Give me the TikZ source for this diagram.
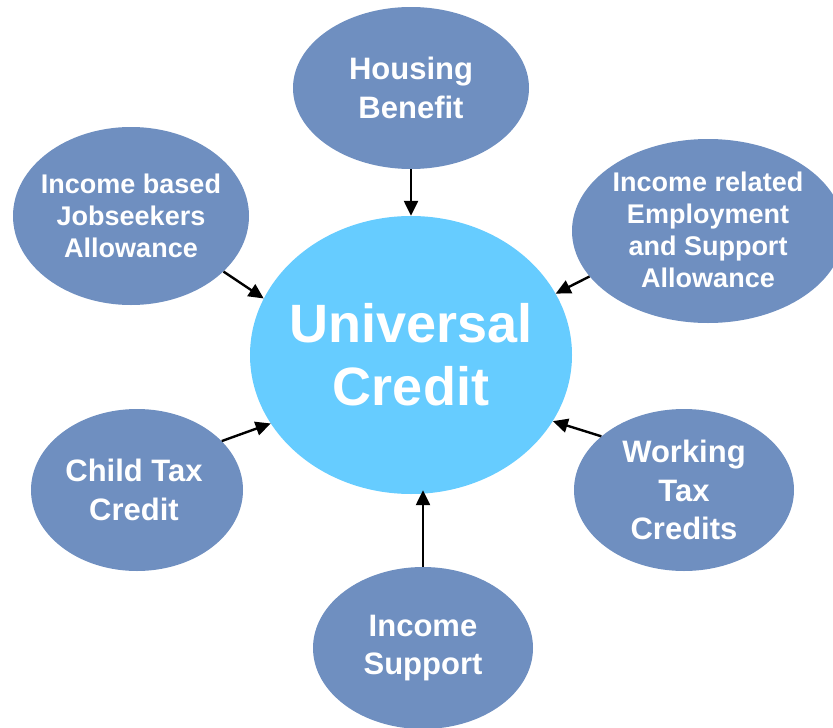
\documentclass[tikz,border=0pt]{standalone}
\usepackage{fontspec}
\setmainfont{Liberation Sans}
\usetikzlibrary{shapes.geometric,arrows.meta}
\definecolor{outerblue}{RGB}{111,143,192}
\definecolor{centreblue}{RGB}{102,204,255}
\tikzset{
  benefit/.style={ellipse, fill=outerblue, draw=none, inner sep=0pt},
  centre/.style={ellipse, fill=centreblue, draw=none, inner sep=0pt},
  bigtext/.style={text=white, align=center, inner sep=0pt, font=\bfseries\fontsize{31}{38.5}\selectfont},
  smalltext/.style={text=white, align=center, inner sep=0pt, font=\bfseries\fontsize{27}{32}\selectfont},
  centretext/.style={text=white, align=center, inner sep=0pt, font=\bfseries\fontsize{54}{63}\selectfont},
  arr/.style={-{Triangle[length=15pt,width=14pt]}, line width=2.4pt, black}
}
\begin{document}
\begin{tikzpicture}[x=1pt,y=-1pt]
\useasboundingbox (0,0) rectangle (833,728);
\node[centre, minimum width=322pt, minimum height=278pt] (uc) at (411,355) {};
\node[centretext] (uct) at (uc.center) {Universal\\Credit};
\node[benefit, minimum width=236pt, minimum height=162pt] (hb) at (411,88) {};
\node[bigtext] (hbt) at (hb.center) {Housing\\Benefit};
\node[benefit, minimum width=236pt, minimum height=178pt] (jsa) at (131,216) {};
\node[smalltext] (jsat) at (jsa.center) {Income based\\Jobseekers\\Allowance};
\node[benefit, minimum width=272pt, minimum height=184pt] (esa) at (708,231) {};
\node[smalltext] (esat) at ([yshift=1pt]esa.center) {Income related\\Employment\\and Support\\Allowance};
\node[benefit, minimum width=212pt, minimum height=162pt] (ctc) at (137,490) {};
\node[bigtext] (ctct) at ([xshift=-3pt]ctc.center) {Child Tax\\Credit};
\node[benefit, minimum width=220pt, minimum height=162pt] (wtc) at (684,490) {};
\node[bigtext] (wtct) at (wtc.center) {Working\\Tax\\Credits};
\node[benefit, minimum width=220pt, minimum height=162pt] (is) at (423,648) {};
\node[bigtext] (ist) at (is.center) {Income\\Support};
\draw[arr] (hb.south) -- (uc.north);
\draw[arr] (jsa.-31) -- (uc.159.5);
\draw[arr] (esa.-159.7) -- (uc.23.4);
\draw[arr] (ctc.30.5) -- (uc.206.1);
\draw[arr] (wtc.147.6) -- (uc.-25.1);
\draw[arr] (is.north) -- ([yshift=4pt]is.north |- uc.south);
\end{tikzpicture}
\end{document}
